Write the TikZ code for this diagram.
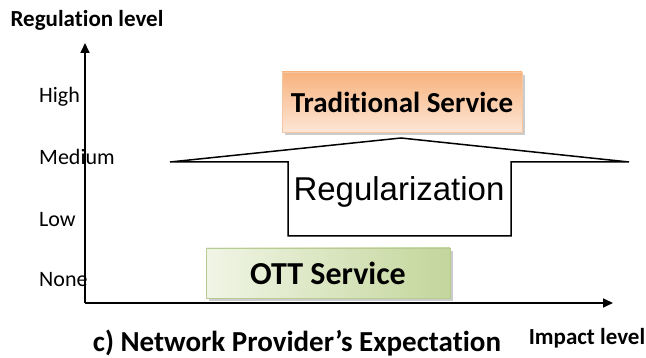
\documentclass[tikz,border=0pt]{standalone}
\usepackage{fontspec}
\setmainfont{Carlito}[Ligatures=NoCommon]
\newfontfamily\arialfont{Liberation Sans}
\usetikzlibrary{arrows.meta,shadows}
\definecolor{tradDark}{HTML}{F7B27C}
\definecolor{tradLight}{HTML}{FDE6D6}
\definecolor{tradEdge}{HTML}{F4C6A2}
\definecolor{ottDark}{HTML}{C3D69B}
\definecolor{ottLight}{HTML}{F1F5E6}
\definecolor{ottEdge}{HTML}{B9CB94}
\tikzset{
  axisline/.style={line width=1.7pt, -{Triangle[length=10pt,width=9pt]}},
  levellabel/.style={anchor=west, inner sep=0pt, font=\fontsize{22}{22}\selectfont},
  titlelabel/.style={inner sep=0pt, font=\bfseries\fontsize{23}{23}\selectfont},
  servicebox/.style={draw, line width=0.6pt, inner sep=0pt,
    drop shadow={shadow xshift=3pt, shadow yshift=-3pt, fill=black!40, opacity=0.5}},
  regshape/.style={draw, line width=1.5pt, line join=miter, fill=white},
}
\begin{document}
\begin{tikzpicture}[x=1pt, y=-1pt]
  \useasboundingbox (0,0) rectangle (646,358);

  % axes
  \coordinate (origin) at (85,303);
  \coordinate (ytip) at (85,43);
  \coordinate (xtip) at (613,303);
  \draw[axisline] (origin) -- (ytip);
  \draw[axisline] (origin) -- (xtip);

  % axis titles
  \node[titlelabel] (ytitle) at (87,20) {Regulation level};
  \node[titlelabel] (xtitle) at (587,338) {Impact level};

  % regulation levels
  \node[levellabel] (high) at (39,97) {High};
  \node[levellabel] (medium) at (39,157) {Medium};
  \node[levellabel] (low) at (39,220) {Low};
  \node[levellabel] (none) at (39,280) {None};

  % regularization arrow
  \draw[regshape] (170,162) -- (401,138) -- (629,162) -- (511,162)
    -- (511,236) -- (288,236) -- (288,162) -- cycle;
  \node[font=\arialfont\fontsize{33}{33}\selectfont, inner sep=0pt] (reg) at (399,192) {Regularization};

  % service boxes
  \node[servicebox, draw=tradEdge, shading=axis, top color=tradDark, bottom color=tradLight,
        minimum width=240pt, minimum height=60pt,
        font=\bfseries\fontsize{29}{29}\selectfont] (trad) at (402,102) {Traditional Service};
  \node[servicebox, draw=ottEdge, left color=ottLight, right color=ottDark,
        minimum width=244pt, minimum height=50pt,
        font=\bfseries\fontsize{32}{32}\selectfont] (ott) at (328,273) {OTT Service};

  % caption
  \node[inner sep=0pt, font=\bfseries\fontsize{29}{29}\selectfont] (caption) at (297,343) {c) Network Provider’s Expectation};
\end{tikzpicture}
\end{document}
